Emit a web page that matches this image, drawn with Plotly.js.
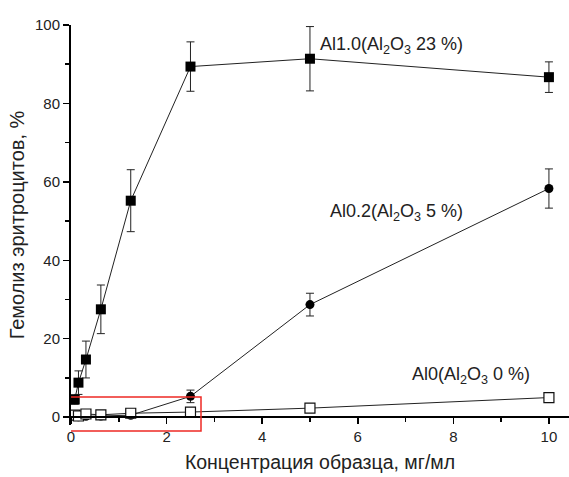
<!DOCTYPE html>
<html><head><meta charset="utf-8">
<script src="https://cdn.plot.ly/plotly-3.0.1.min.js"></script>
<style>html,body{margin:0;padding:0;background:#fff}#plot{width:569px;height:477px}</style>
</head><body><div id="plot"></div>
<script>
const conc = [0.078, 0.156, 0.3125, 0.625, 1.25, 2.5, 5, 10];
const al10 = [4.5, 8.8, 14.7, 27.5, 55.2, 89.4, 91.4, 86.7];
const al10err = [1.2, 3.0, 4.7, 6.2, 7.9, 6.3, 8.2, 3.9];
const al02 = [0.2, 0.1, 0.2, 0.3, 0.5, 5.3, 28.7, 58.3];
const al02err = [0.3, 0.3, 0.3, 0.3, 0.5, 1.6, 2.9, 5.0];
const al0 = [0.5, 0.3, 0.8, 0.6, 1.0, 1.3, 2.3, 5.0];
const al0err = [0.3, 0.3, 0.3, 0.3, 0.4, 0.5, 0.3, 0.3];
const labels = ['Al1.0(Al<sub>2</sub>O<sub>3</sub> 23 %)', 'Al0.2(Al<sub>2</sub>O<sub>3</sub> 5 %)', 'Al0(Al<sub>2</sub>O<sub>3</sub> 0 %)'];
const labelX = [5.17, 5.38, 7.1];
const labelY = [94.9, 52.3, 10.7];

const eb = (arr) => ({type:'data', array: arr, visible:true, color:'#222', thickness:1, width:4});
const line = {color:'#222', width:1};
const traces = [
  {x: conc, y: al02, error_y: eb(al02err), mode:'lines+markers', line: line,
   marker:{symbol:'circle', size:9, color:'#000'}, cliponaxis:false},
  {x: conc, y: al0, error_y: eb(al0err), mode:'lines+markers', line: line,
   marker:{symbol:'square', size:10, color:'#fff', line:{width:1.2, color:'#111'}}, cliponaxis:false},
  {x: conc, y: al10, error_y: eb(al10err), mode:'lines+markers', line: line,
   marker:{symbol:'square', size:10, color:'#000'}, cliponaxis:false}
];
const font = {family:'Liberation Sans, Arial, sans-serif', size:14, color:'#222'};
const layout = {
  width:569, height:477, showlegend:false,
  paper_bgcolor:'#fff', plot_bgcolor:'#fff',
  margin:{l:71, r:0, t:25, b:52},
  font: font,
  xaxis:{range:[0,10.42], anchor:'free', position:2/102, showgrid:false, zeroline:false,
    showline:true, linecolor:'#000', linewidth:2, ticks:'outside', ticklen:6, tickwidth:1.5, tickcolor:'#000',
    tickvals:[0,2,4,6,8,10], ticktext:['0','2','4','6','8','10'],
    minor:{tickvals:[1,3,5,7,9], ticks:'outside', ticklen:4, tickwidth:1.5, tickcolor:'#000'},
    tickfont:{size:15},
    title:{text:'Концентрация образца, мг/мл', font:{size:19.5, color:'#222'}, standoff:10}},
  yaxis:{range:[-2,100], showgrid:false, zeroline:false,
    showline:true, linecolor:'#000', linewidth:2, ticks:'outside', ticklen:6, tickwidth:1.5, tickcolor:'#000',
    tickvals:[0,20,40,60,80,100],
    minor:{tickvals:[10,30,50,70,90], ticks:'outside', ticklen:4, tickwidth:1.5, tickcolor:'#000'},
    tickfont:{size:15},
    title:{text:'Гемолиз эритроцитов, %', font:{size:20, color:'#222'}, standoff:5}},
  annotations: labels.map((t,i)=>({x:labelX[i], y:labelY[i], xref:'x', yref:'y', text:t, showarrow:false,
    xanchor:'left', yanchor:'middle', font:{size:18, color:'#222'}})),
  shapes:[{type:'rect', xref:'x', yref:'paper', x0:-0.1, x1:2.72, y0:-0.015, y1:0.07,
    line:{color:'#ee2a24', width:1.5}, layer:'above'}]
};
Plotly.newPlot('plot', traces, layout, {displayModeBar:false, staticPlot:true});
</script></body></html>
